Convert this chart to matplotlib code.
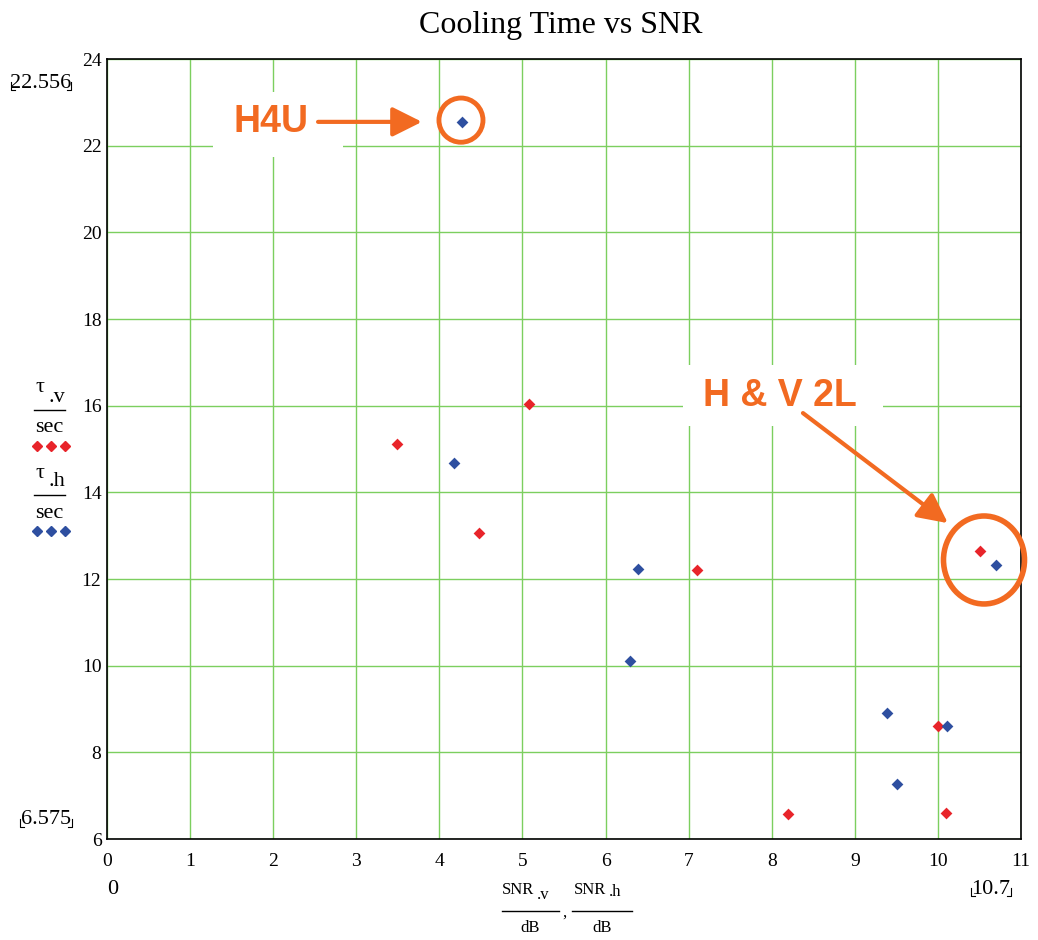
import matplotlib
matplotlib.use("Agg")
import matplotlib.pyplot as plt
from matplotlib.patches import Ellipse, Rectangle
from matplotlib.lines import Line2D

# Data
snr_v = [3.49, 5.08, 4.48, 7.10, 8.20, 10.00, 10.10, 10.51]
tau_v = [15.11, 16.04, 13.06, 12.21, 6.575, 8.61, 6.60, 12.65]
snr_h = [4.27, 4.18, 6.39, 6.29, 9.39, 9.51, 10.11, 10.70]
tau_h = [22.556, 14.68, 12.23, 10.11, 8.91, 7.27, 8.61, 12.32]

x_ticks = list(range(0, 12))
y_ticks = list(range(6, 26, 2))

red = "#e8242a"
blue = "#2e4fa0"
grid_green = "#7ccf5f"
orange = "#f26a21"
serif = "Liberation Serif"

W, H = 1038, 940
fig = plt.figure(figsize=(W / 100, H / 100), dpi=100)
ax = fig.add_axes([0.1031, 0.1074, 0.8805, 0.8298])


def fp(px, py):
    # pixel position -> figure fraction
    return px / W, 1 - py / H


def ftext(px, py, s, size, **kw):
    x, y = fp(px, py)
    return fig.text(x, y, s, ha="center", va="center", fontsize=size, family=serif, **kw)


def fline(xs, ys, **kw):
    pts = [fp(a, b) for a, b in zip(xs, ys)]
    fig.add_artist(Line2D([p[0] for p in pts], [p[1] for p in pts], **kw))


ax.scatter(snr_v, tau_v, marker="D", s=36, color=red, zorder=3, linewidths=0)
ax.scatter(snr_h, tau_h, marker="D", s=36, color=blue, zorder=3, linewidths=0)

ax.set_xlim(0, 11)
ax.set_ylim(6, 24)
ax.set_xticks(x_ticks)
ax.set_yticks(y_ticks)
ax.grid(True, color=grid_green, linewidth=1)
ax.tick_params(length=0, labelsize=14)
ax.tick_params(axis="x", pad=10)
ax.tick_params(axis="y", pad=4)
for lab in ax.get_xticklabels() + ax.get_yticklabels():
    lab.set_fontfamily(serif)
for sp in ax.spines.values():
    sp.set_color("black")
    sp.set_linewidth(1.2)

ftext(561, 25, "Cooling Time vs SNR", 23)

# annotations: white boxes hide the grid behind the labels
ax.add_patch(Rectangle((1.276, 21.74), 1.564, 1.50, facecolor="white",
                       edgecolor="none", zorder=2))
ax.add_patch(Rectangle((6.93, 15.53), 2.41, 1.41, facecolor="white",
                       edgecolor="none", zorder=2))

arrow = dict(arrowstyle="-|>,head_length=0.9,head_width=0.45", color=orange,
             lw=3, mutation_scale=20, shrinkA=0, shrinkB=0)
ax.annotate("", xy=(3.79, 22.55), xytext=(2.54, 22.55), arrowprops=arrow, zorder=4)
ax.text(1.97, 22.55, "H4U", ha="center", va="center", fontsize=27,
        fontweight="bold", family="Liberation Sans", color=orange, zorder=4)
ax.add_patch(Ellipse((4.26, 22.59), 0.53, 1.02, fill=False, edgecolor=orange,
                     lw=3.5, zorder=4))

ax.annotate("", xy=(10.12, 13.29), xytext=(8.376, 15.83), arrowprops=arrow, zorder=4)
ax.text(8.10, 16.22, "H & V 2L", ha="center", va="center", fontsize=27,
        fontweight="bold", family="Liberation Sans", color=orange, zorder=4)
ax.add_patch(Ellipse((10.555, 12.44), 0.975, 2.03, fill=False, edgecolor=orange,
                     lw=4, zorder=4, clip_on=False))

# Mathcad-style limit labels with corner marks
for (cx, cy, s, x0, x1, yb) in [(41, 83, "22.556", 11, 71, 90),
                                (46, 820, "6.575", 20, 72, 827),
                                (991, 889, "10.7", 971, 1011, 896)]:
    ftext(cx, cy, s, 16)
    fline([x0, x0, x0 + 4], [yb - 8, yb, yb], color="black", lw=0.8)
    fline([x1, x1, x1 - 4], [yb - 8, yb, yb], color="black", lw=0.8)
ftext(113, 889, "0", 16)

# y axis label: stacked fractions with legend markers
for (top, sub, y0, col) in [("τ", ".v", 388, red), ("τ", ".h", 473, blue)]:
    ftext(40, y0, top, 16)
    ftext(57, y0 + 9, sub, 16)
    fline([34, 65], [y0 + 22, y0 + 22], color="black", lw=1)
    ftext(49, y0 + 40, "sec", 16)
    fline([37, 51, 65], [y0 + 58, y0 + 58, y0 + 58], ls="none", marker="D",
          markersize=5.5, color=col)

# x axis label
for (cx, sub, x0, x1) in [(530, ".v", 502, 559), (602, ".h", 572, 632)]:
    ftext(cx - 12, 890, "SNR", 12)
    ftext(cx + 13, 895 if sub == ".v" else 892, sub, 12)
    fline([x0, x1], [911, 911], color="black", lw=1)
    ftext(cx, 928, "dB", 12)
ftext(564, 913, ",", 12)

fig.savefig("out.png", dpi=100)
